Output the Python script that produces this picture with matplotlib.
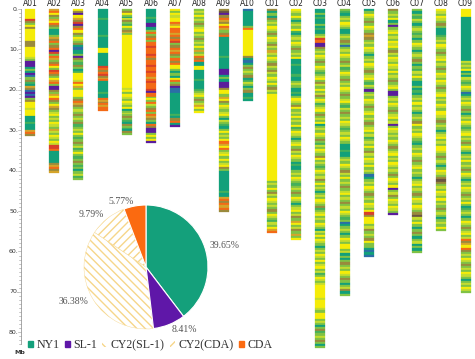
import matplotlib
matplotlib.use("Agg")
import matplotlib.pyplot as plt
from matplotlib.patches import Patch

# chromosome names, lengths (Mb) and painted blocks (one char per bin, top -> bottom)
chrom_names = ["A01", "A02", "A03", "A04", "A05", "A06", "A07", "A08", "A09", "A10",
               "C01", "C02", "C03", "C04", "C05", "C06", "C07", "C08", "C09"]
chrom_len = [31.4, 40.6, 42.3, 25.2, 31.2, 33.2, 29.2, 25.8, 50.2, 22.8,
             55.5, 57.2, 83.9, 71.0, 61.4, 51.0, 60.4, 55.0, 70.3]
chrom_bands = [
    "YYYYYRKGYKYYYYYYKKKYYYYYLGPPPTGTPBGKMTEKBPBPGKYYYLYYYTTTMTTTEOK",
    "EOYKGEYOKG TTTGEKOGKO PRGOEGKOYG ROKGYEOGPP KGEYOKGYEK GLYGLGYLGE LGYLGYLRRO TTTTTTKEOK E",
    "YKPYEKRPKO YKGYLGKTBT TGPKGMKGTM YYYLOYEGYY YGKOEKGLGK GLGKMGLGYG MGKGLMGYGM GKGMGTGLMG",
    "TTTTTMTTTT TTTTMTTTTT TYYYTTTTTT TROKORKEOT TTTTTMTTOE KOEOO",
    "GKYGTLKGMY GKEGYYYYYY YYYYYYYYYY YYYYYYYYYY YYLYGYYLGY LGYTGLGKGM TKGMTKG",
    "TTTTMTTPPT TGOGKOGOOR OOOROKOOOR OOROOEOROO ORPOOGYGOL GKOGOEKGTO KPPPGYGYP",
    "YGYLYYOEYO OEOKORGKOE OKGOKOYYGT GTYOGKPBBT TTTTTTTTTM TKOTP",
    "GLGYGLGKGL YGLGKGLGYG EGLOKOTTYY TTTTMTTTTM GLYGKGLEYG Y",
    "KNPKOEKYOE GKOTTTTTTT TTMTTTTTPP PTGTPPPKYY GEYKGYLGLY GTLGMTGYGL GYOEYOGLYG YGLYKGTTTT TTTTTMTTEO KOEOK",
    "BTTTTTTTGO YYYYYYYYYY YYKTBTGKGL GKTMLGTGKT TMT",
    "KTGTKGLGYL GKGYLGKLGE LGYLGKLGKL GYLGYGKLGY YYYYYYYYYY YYYYYYYYYY YYYYYYYYYY YYYYYYYYYG LGYGKLGYLG LGKGYLGMLG YEO",
    "YLGYGTGLGY MTGLGYLGKG LGYTTMTTTT MTTGLGTTMT GYLGKYGLGY GLGYMGYLGT GLYGKLGYLG TMTTGLGYLG MGLGKGYLGT GLYGLKGEYG LKGEGY",
    "TTGTMTTGTM TTGLROPPKG LGYLGKGYLG MGLYGKLGYG LKGYLMGLYG KGLGYTGLGY LGKGMLGYLG KYGLGMGYLG LKGYGLGTGL GYLGKMGLYG "
    "LGYLGTLGYG YLGTGLGYLG YGLYGLMGYL GLYYYYYYLY YYYLGYYYGL GTGKMGLGKG TG",
    "GMTGLGYLGT TGLGKGBGLG YLGKGLMGYL GKGLGYLGKG LYGMLGKGLG YLGMGLGYLG TTTMTTGLGY LGKLGYGLGK GLYGLGKGLG YLGMGBTGLG "
    "TGYLGYYGLT GTGKGLGYLG KGTGLKTG",
    "TGYLGKGYLG KEKGLGYLGT GLGYLGKGLY GMLGPGLGYL GKGLYGLGKG LYGLMGLGYG KLGYLGYGLG BTGLGYLGKG LGYLGYRKYY YGLKGLGKYG GTBTB",
    "KGLGYTGPGL YGLGYLYGKL GYLGYLGYGL GKGLYGPPGL GYLGKGLYGL PGYLGLGYLG KGLYGLGYLG LGKGYLGYPG LKGYLGYLGP",
    "GTGMLGTGLG MGTGYLGTGL GKGTGMLGYG TTGTMTGLGY GLGTGLGKYG LGYLGMTGLG YLGKGLYGLG TGLYGLGKGY LGYLGKNLGY GTGKGTGLTG TG",
    "YLGYLGKGTT TMGLGYLGKG LYGLGKGYLG YLGKGLYGLG YLGYYLGKGL GTGLYGLGYY LGKGLGTGYL GKNKGLGYLG YGLGKGLGTG LGYG",
    "YYYYTTTTTT TTTTTTTTTT TTTTTLGLGY TGTLGMGYLG BTGLGYLGKG TGLGYLGMGL YGLGKGYLGT GLGYGLGKGY LGTGLGYLGK GLGYGTMGLG "
    "TGYLGKGLYG LOKEYOKGLG YLGKGLGYLG TGLGYLG",
]

# genome composition pie
pie_labels = ["NY1", "SL-1", "CY2(SL-1)", "CY2(CDA)", "CDA"]
pie_values = [39.65, 8.41, 36.38, 9.79, 5.77]

y_ticks = [0, 10, 20, 30, 40, 50, 60, 70, 80]

palette = {
    "Y": "#f5ec08", "L": "#c4dc2e", "G": "#80c245", "M": "#45b05a",
    "T": "#12a07a", "B": "#2b6ea6", "P": "#5a1c9c", "O": "#f36a16",
    "R": "#d8402a", "K": "#9a8a3c", "N": "#6a5541", "E": "#d5a42a",
}
pie_colors = ["#14a07b", "#5f17a8", "white", "white", "#fb6a10"]
hatch_col = "#f6d68a"
hatches = {"CY2(SL-1)": "\\\\\\\\", "CY2(CDA)": "////"}
plt.rcParams["hatch.linewidth"] = 1.0

fig = plt.figure(figsize=(4.75, 3.59), dpi=100)
ax = fig.add_axes([0, 0, 1, 1])
ax.set_xlim(-1.24, 18.39)
ax.set_ylim(86.6, -2.23)
ax.axis("off")

# painted chromosomes
for i, (name, length, band) in enumerate(zip(chrom_names, chrom_len, chrom_bands)):
    band = band.replace(" ", "")
    step = length / len(band)
    j = 0
    while j < len(band):
        k = j
        while k < len(band) and band[k] == band[j]:
            k += 1
        c = palette[band[j]]
        ax.bar(i, (k - j) * step, bottom=j * step, width=0.41, color=c,
               edgecolor=c, linewidth=0.2)
        j = k
    ax.text(i, -1.25, name, ha="center", va="center", fontsize=5.5, color="#222")

# Mb ruler on the left
xr = -0.39
ax.plot([xr, xr], [0, 83], color="#999999", lw=0.6)
for v in range(0, 84):
    ln = 0.09 if v % 10 == 0 else 0.05
    ax.plot([xr - ln, xr], [v, v], color="#999999", lw=0.4)
for v in y_ticks:
    ax.text(xr - 0.07, v, f"{v}.", ha="right", va="center", fontsize=4.5, color="#333")
ax.text(-0.43, 85.0, "Mb", ha="center", va="center", fontsize=4.5,
        fontweight="bold", color="#333")

# pie chart
pax = fig.add_axes([(146 - 62) / 475, (359 - 267 - 62) / 359, 124 / 475, 124 / 359])
wedges, texts = pax.pie(pie_values, colors=pie_colors, startangle=90, counterclock=False,
                        labels=[f"{v:.2f}%" for v in pie_values], labeldistance=1.08,
                        wedgeprops=dict(linewidth=0.8, edgecolor="white"),
                        textprops=dict(family="Liberation Serif", fontsize=7, color="#555"))
for w, lab in zip(wedges, pie_labels):
    if lab in hatches:
        w.set_edgecolor(hatch_col)
        w.set_hatch(hatches[lab])
        w.set_linewidth(0.3)
        w.set_zorder(0.5)
pax.set_xlim(-1, 1)
pax.set_ylim(-1, 1)
pax.axis("off")

# legend
handles = []
for lab, c in zip(pie_labels, pie_colors):
    if lab in hatches:
        handles.append(Patch(facecolor="white", edgecolor=hatch_col, hatch=hatches[lab],
                             lw=0, label=lab))
    else:
        handles.append(Patch(facecolor=c, edgecolor=c, label=lab))
fig.legend(handles=handles, loc="center left", bbox_to_anchor=(28 / 475, 1 - 345 / 359),
           ncol=5, frameon=False, borderpad=0, borderaxespad=0,
           handlelength=0.4, handleheight=0.4, handletextpad=0.3, columnspacing=0.45,
           prop=dict(family="Liberation Serif", size=8.6), labelcolor="#333")

fig.savefig("out.png", dpi=100)
